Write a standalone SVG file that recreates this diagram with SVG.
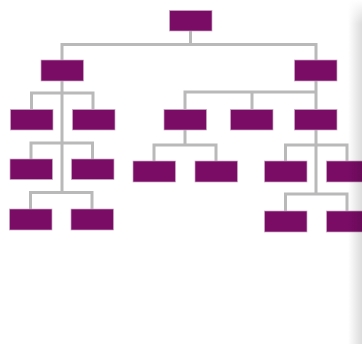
<svg xmlns="http://www.w3.org/2000/svg" width="362" height="344" viewBox="0 0 362 344">
<style>
.n{fill:#7a0c66;stroke:#c9a8c4;stroke-width:.7}
.c{fill:none;stroke:#b9b9b9;stroke-width:3}
</style>
<defs>
<linearGradient id="edge" x1="0" x2="1" y1="0" y2="0">
<stop offset="0" stop-color="#000" stop-opacity="0"/>
<stop offset="1" stop-color="#000" stop-opacity=".14"/>
</linearGradient>
<linearGradient id="top" x1="0" x2="0" y1="0" y2="1">
<stop offset="0" stop-color="#fff" stop-opacity="1"/>
<stop offset="1" stop-color="#fff" stop-opacity="0"/>
</linearGradient>
</defs>
<rect width="362" height="344" fill="#fff"/>
<g id="connectors">
<path class="c" d="M190.500 31V44.500M62 60V44.500H316V60"/>
<path class="c" d="M62 81V192.500M31.500 109V93H93V109M31 159V143H92.500V159M30.500 209V192.500H92V209"/>
<path class="c" d="M316 81V109M185 109V92H316M252 92V109" />
<path class="c" d="M185 130V145M154 161V145H216V161"/>
<path class="c" d="M316 130V194M285.500 161V145H347V161M285.500 211V194H347V211"/>
</g>
<g id="n1"><rect class="n" x="169.500" y="10.500" width="42.500" height="20.500"/></g>
<g id="n2"><rect class="n" x="41" y="60" width="42.500" height="21"/></g>
<g id="n3"><rect class="n" x="294.500" y="60" width="42.500" height="21"/></g>
<g id="n4"><rect class="n" x="10.500" y="109.500" width="42.500" height="20.500"/></g>
<g id="n5"><rect class="n" x="72.500" y="109.500" width="42.500" height="20.500"/></g>
<g id="n6"><rect class="n" x="164" y="109.500" width="42.500" height="20.500"/></g>
<g id="n7"><rect class="n" x="230.500" y="109.500" width="42.500" height="20.500"/></g>
<g id="n8"><rect class="n" x="294.500" y="109.500" width="42.500" height="20.500"/></g>
<g id="n9"><rect class="n" x="10" y="159" width="42.500" height="20.500"/></g>
<g id="n10"><rect class="n" x="71.500" y="159" width="42.500" height="20.500"/></g>
<g id="n11"><rect class="n" x="133" y="161" width="42.500" height="21"/></g>
<g id="n12"><rect class="n" x="195" y="161" width="42.500" height="21"/></g>
<g id="n13"><rect class="n" x="264.500" y="161" width="42.500" height="21"/></g>
<g id="n14"><rect class="n" x="326.500" y="161" width="42.500" height="21"/></g>
<g id="n15"><rect class="n" x="9.500" y="209" width="42.500" height="21"/></g>
<g id="n16"><rect class="n" x="71" y="209" width="42.500" height="21"/></g>
<g id="n17"><rect class="n" x="264.500" y="211" width="42.500" height="21"/></g>
<g id="n18"><rect class="n" x="326.500" y="211" width="42.500" height="21"/></g>
<rect x="348" y="0" width="14" height="344" fill="url(#edge)"/>
<rect x="348" y="0" width="14" height="24" fill="url(#top)"/>
</svg>
